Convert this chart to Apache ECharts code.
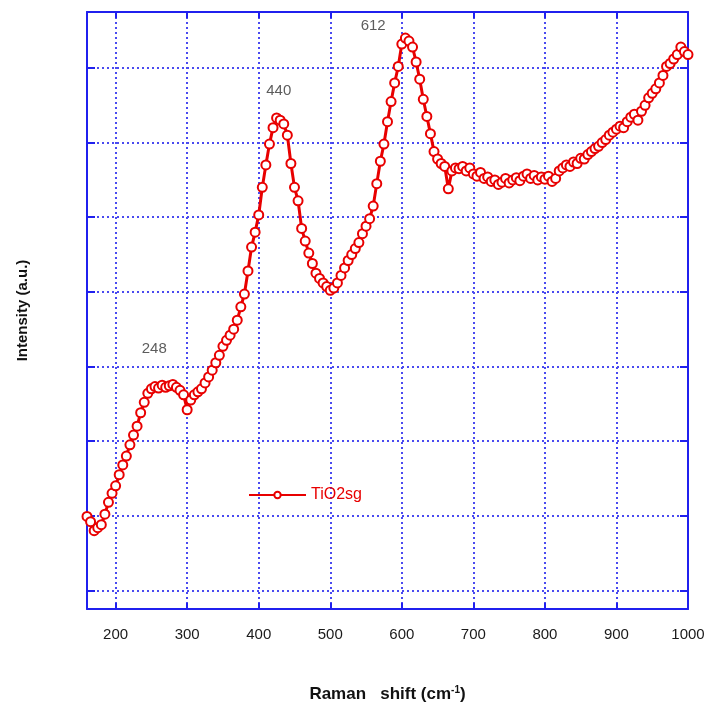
<!DOCTYPE html>
<html>
<head>
<meta charset="utf-8">
<script src="https://cdn.jsdelivr.net/npm/echarts@6/dist/echarts.min.js"></script>
<style>
  html, body { margin: 0; padding: 0; background: #fff; }
  #main { width: 712px; height: 711px; }
</style>
</head>
<body>
<div id="main"></div>
<script>
// Raman spectrum, x step 5 cm-1 from 160 to 1000
var shiftStart = 160
var shiftStep = 5
var intensity = [
  0.99, 0.92, 0.80, 0.84, 0.88, 1.02, 1.18, 1.30, 1.40, 1.55,
  1.68, 1.80, 1.95, 2.08, 2.20, 2.38, 2.52, 2.64, 2.70, 2.73,
  2.71, 2.75, 2.72, 2.74, 2.76, 2.72, 2.68, 2.62, 2.42, 2.55,
  2.62, 2.66, 2.70, 2.78, 2.86, 2.95, 3.05, 3.15, 3.27, 3.35,
  3.42, 3.50, 3.62, 3.80, 3.97, 4.28, 4.60, 4.80, 5.03, 5.40,
  5.70, 5.98, 6.20, 6.33, 6.30, 6.25, 6.10, 5.72, 5.40, 5.22,
  4.85, 4.68, 4.52, 4.38, 4.25, 4.18, 4.12, 4.07, 4.02, 4.05,
  4.12, 4.22, 4.32, 4.42, 4.50, 4.58, 4.66, 4.78, 4.88, 4.98,
  5.15, 5.45, 5.75, 5.98, 6.28, 6.55, 6.80, 7.02, 7.32, 7.40,
  7.36, 7.28, 7.08, 6.85, 6.58, 6.35, 6.12, 5.88, 5.78, 5.72,
  5.68, 5.38, 5.62, 5.66, 5.65, 5.68, 5.62, 5.66, 5.58, 5.55,
  5.60, 5.52, 5.54, 5.48, 5.50, 5.44, 5.47, 5.52, 5.46, 5.50,
  5.53, 5.49, 5.55, 5.58, 5.52, 5.56, 5.50, 5.54, 5.51, 5.55,
  5.48, 5.52, 5.62, 5.66, 5.70, 5.68, 5.74, 5.72, 5.79, 5.78,
  5.84, 5.88, 5.92, 5.95, 6.00, 6.04, 6.10, 6.14, 6.18, 6.22,
  6.20, 6.28, 6.34, 6.38, 6.30, 6.42, 6.50, 6.60, 6.66, 6.72,
  6.80, 6.90, 7.02, 7.06, 7.12, 7.18, 7.28, 7.22, 7.18
]
var xTicks = [200, 300, 400, 500, 600, 700, 800, 900, 1000]
var yTicks = [0, 1, 2, 3, 4, 5, 6, 7]
var peakNames = ['248', '440', '612']
var peakSpots = [[254, 3.23], [428, 6.69], [560, 7.56]]

var spectrum = intensity.map(function (v, i) { return [shiftStart + i * shiftStep, v] })
var peaks = peakSpots.map(function (p, i) { return { value: p, name: peakNames[i] } })

var blue = '#2020ee'
var red = '#e80000'
var dots = { color: '#4a4af0', width: 2, type: [2, 3] }

var myChart = echarts.init(document.getElementById('main'))
myChart.setOption({
  animation: false,
  grid: { left: 87, top: 12, right: 24, bottom: 102 },
  legend: {
    left: 243,
    top: 482,
    itemWidth: 57,
    itemHeight: 8,
    itemGap: 4,
    textStyle: { color: red, fontSize: 16, fontFamily: 'Liberation Sans' },
    data: ['TiO2sg']
  },
  xAxis: [{
    type: 'value',
    min: 160,
    max: 1000,
    name: 'Raman   shift (cm{sup|-1})',
    nameLocation: 'middle',
    nameGap: 76,
    nameTextStyle: {
      color: '#111', fontSize: 17, fontWeight: 'bold', fontFamily: 'Liberation Sans',
      rich: { sup: { fontSize: 10, fontWeight: 'bold', color: '#111', verticalAlign: 'top', padding: [0, 0, 8, 0] } }
    },
    axisLine: { onZero: false, lineStyle: { color: blue, width: 2 } },
    axisTick: { inside: true, length: 6, lineStyle: { color: blue, width: 2 }, customValues: xTicks },
    axisLabel: {
      customValues: xTicks, margin: 18, color: '#1a1a1a', fontSize: 15, fontFamily: 'Liberation Sans',
      formatter: function (v) { return String(v) }
    },
    splitLine: { show: true, lineStyle: dots }
  }, {
    type: 'value',
    position: 'top',
    min: 160,
    max: 1000,
    axisLine: { onZero: false, lineStyle: { color: blue, width: 2 } },
    axisTick: { inside: true, length: 6, lineStyle: { color: blue, width: 2 }, customValues: xTicks },
    axisLabel: { show: false },
    splitLine: { show: false }
  }],
  yAxis: [{
    type: 'value',
    min: -0.25,
    max: 7.75,
    name: 'Intensity (a.u.)',
    nameLocation: 'middle',
    nameGap: 57,
    nameTextStyle: { color: '#111', fontSize: 15, fontWeight: 'bold', fontFamily: 'Liberation Sans' },
    axisLine: { show: true, onZero: false, lineStyle: { color: blue, width: 2 } },
    axisTick: { show: true, inside: true, length: 8, lineStyle: { color: blue, width: 2 }, customValues: yTicks },
    axisLabel: { show: false },
    splitLine: { show: true, lineStyle: dots }
  }, {
    type: 'value',
    position: 'right',
    min: -0.25,
    max: 7.75,
    axisLine: { show: true, onZero: false, lineStyle: { color: blue, width: 2 } },
    axisTick: { show: true, inside: true, length: 8, lineStyle: { color: blue, width: 2 }, customValues: yTicks },
    axisLabel: { show: false },
    splitLine: { show: false }
  }],
  series: [{
    name: 'TiO2sg',
    type: 'line',
    data: spectrum,
    symbol: 'emptyCircle',
    symbolSize: 9,
    showAllSymbol: true,
    lineStyle: { color: red, width: 3 },
    itemStyle: { color: red, borderWidth: 2.2 },
    z: 3
  }, {
    name: 'peaks',
    type: 'scatter',
    data: peaks,
    symbolSize: 0,
    label: {
      show: true,
      position: 'inside',
      formatter: '{b}',
      color: '#333',
      fontSize: 15,
      fontFamily: 'Liberation Sans'
    },
    z: 4
  }]
})
window.addEventListener('resize', function () {
  myChart.resize()
})
</script>
</body>
</html>
